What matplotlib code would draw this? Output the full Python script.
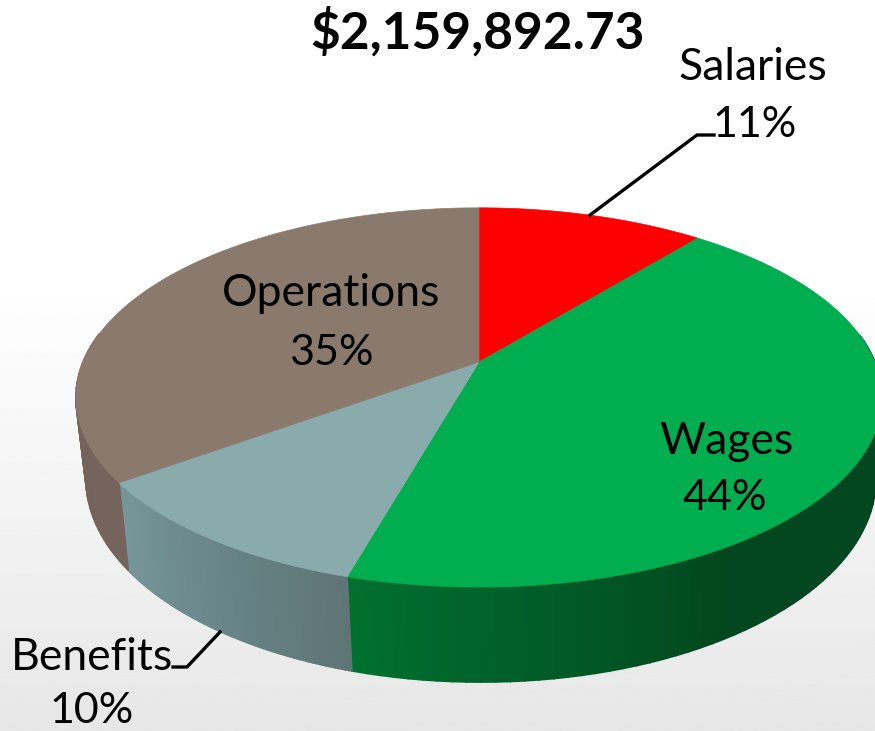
"""Perspective 3D pie of the budget split, drawn from the slice shares."""

import matplotlib.pyplot as plt
import numpy as np
from matplotlib.colors import to_rgb


plt.rcParams["font.family"] = "Lato"

TOTAL_LABEL = "$2,159,892.73"
CATEGORIES = ["Salaries", "Wages", "Benefits", "Operations"]
SHARES = [10.9, 43.5, 10.6, 35.0]
SHARE_LABELS = ["11%", "44%", "10%", "35%"]

TOP_COLORS = ["#ff0000", "#00ae50", "#8aabab", "#8a7a6e"]
WALL_START = ["#a00000", "#02471f", "#5e7576", "#75645b"]
WALL_END = ["#a00000", "#00702f", "#76979a", "#6f5f57"]
# share of each arc that keeps the start tone before the shading begins
WALL_HOLD = [0.0, 0.7, 0.0, 0.0]


def top_rim(theta):
    u, v = np.sin(theta), np.cos(theta)
    den = 1 + 0.187 * v
    return 479 + 396 * u / den, 362 - 183 * v / den


def bottom_rim(theta):
    u, v = np.sin(theta), np.cos(theta)
    den = 1 + 0.187 * v
    return 481 + 388 * u / den, 441 - 196 * v / den


def draw_wall(ax, start, end, color_a, color_b, hold):
    edges = np.linspace(start, end, 90)
    a, b = np.array(to_rgb(color_a)), np.array(to_rgb(color_b))
    for i in range(len(edges) - 1):
        th = edges[i:i + 2]
        if np.cos(th.mean()) > 0.15:
            continue
        tx, ty = top_rim(th)
        bx, by = bottom_rim(th[::-1])
        frac = np.clip((i / 88 - hold) / (1 - hold), 0, 1)
        ax.fill(np.r_[tx, bx], np.r_[ty, by], color=a + (b - a) * frac, linewidth=1.2, zorder=2)


def main():
    fig = plt.figure(figsize=(8.75, 7.31), dpi=100)
    ax = fig.add_axes([0, 0, 1, 1])
    ax.set_xlim(0, 875)
    ax.set_ylim(731, 0)
    ax.axis("off")

    shade = np.clip((np.linspace(0, 1, 256) - 0.38) / 0.62, 0, 1)[:, None]
    ax.imshow(1 - 0.095 * shade, cmap="gray", vmin=0, vmax=1, extent=(0, 875, 731, 0), aspect="auto", zorder=0)

    bounds = 2 * np.pi * np.cumsum([0] + SHARES) / sum(SHARES)
    for i in range(len(SHARES)):
        draw_wall(ax, bounds[i], bounds[i + 1], WALL_START[i], WALL_END[i], WALL_HOLD[i])
    for i in range(len(SHARES)):
        tx, ty = top_rim(np.linspace(bounds[i], bounds[i + 1], 120))
        ax.fill(np.r_[479, tx], np.r_[362, ty], color=TOP_COLORS[i], linewidth=0.5, zorder=3)

    ax.plot([590, 697, 714], [215, 135, 135], color="black", linewidth=2.4, zorder=4)
    ax.plot([220, 187, 173], [632, 667, 667], color="black", linewidth=2.4, zorder=4)

    ax.text(477, 32, TOTAL_LABEL, fontsize=37, fontweight="bold", ha="center", va="center", zorder=5)
    label_pos = [(753, 67, 755, 125), (726, 441, 725, 498), (92, 658, 92, 711), (331, 293, 331, 353)]
    for name, pct, (nx, ny, px, py) in zip(CATEGORIES, SHARE_LABELS, label_pos):
        ax.text(nx, ny, name, fontsize=32, ha="center", va="center", zorder=5)
        ax.text(px, py, pct, fontsize=31, ha="center", va="center", zorder=5)

    fig.savefig("out.png", dpi=100)
    plt.close(fig)


if __name__ == "__main__":
    main()
